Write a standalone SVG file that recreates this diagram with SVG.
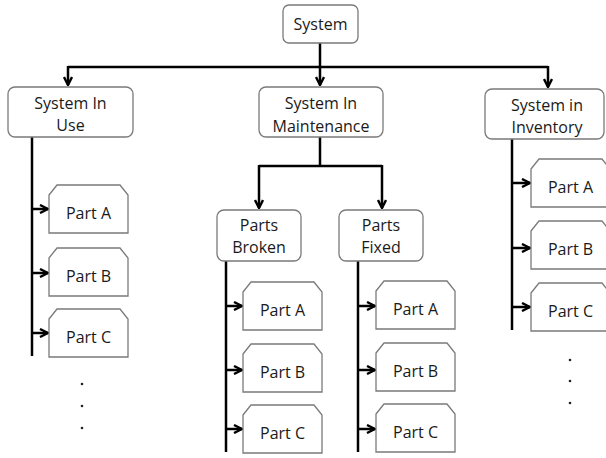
<svg xmlns="http://www.w3.org/2000/svg" width="606" height="458" viewBox="0 0 606 458">
<style>
.box{fill:#fff;stroke:#7a7a7a;stroke-width:1.3}
.t{font-family:"Open Sans","Liberation Sans",sans-serif;font-size:16px;fill:#1a1a1a;text-anchor:middle}
.c{fill:none;stroke:#000;stroke-width:2.5}
.dot{fill:#222}
</style>
<defs>
<marker id="ah" viewBox="0 0 10 10" refX="9" refY="5" markerWidth="4" markerHeight="4" orient="auto" markerUnits="strokeWidth">
<path d="M1,1 L9,5 L1,9" fill="none" stroke="#000" stroke-width="2.4"/>
</marker>
<path id="part" d="M0,10 L8,0 L71,0 L79,10 L79,48 L0,48 Z"/>
</defs>
<rect width="606" height="458" fill="#fff"/>
<g id="connectors">
<path class="c" d="M320,43 V85" marker-end="url(#ah)"/>
<path class="c" d="M68,67 H548"/>
<path class="c" d="M68,66 V85" marker-end="url(#ah)"/>
<path class="c" d="M548,66 V87" marker-end="url(#ah)"/>
<path class="c" d="M32,137 V356"/>
<path class="c" d="M31,209 H48" marker-end="url(#ah)"/>
<path class="c" d="M31,273 H48" marker-end="url(#ah)"/>
<path class="c" d="M31,333 H48" marker-end="url(#ah)"/>
<path class="c" d="M320,137 V166"/>
<path class="c" d="M259,166 H382"/>
<path class="c" d="M259,165 V208" marker-end="url(#ah)"/>
<path class="c" d="M382,165 V208" marker-end="url(#ah)"/>
<path class="c" d="M226,261 V452"/>
<path class="c" d="M225,306 H242" marker-end="url(#ah)"/>
<path class="c" d="M225,370 H242" marker-end="url(#ah)"/>
<path class="c" d="M225,429 H242" marker-end="url(#ah)"/>
<path class="c" d="M358,261 V452"/>
<path class="c" d="M357,306 H375" marker-end="url(#ah)"/>
<path class="c" d="M357,370 H375" marker-end="url(#ah)"/>
<path class="c" d="M357,429 H375" marker-end="url(#ah)"/>
<path class="c" d="M512,139 V330"/>
<path class="c" d="M511,183 H530" marker-end="url(#ah)"/>
<path class="c" d="M511,248 H530" marker-end="url(#ah)"/>
<path class="c" d="M511,307 H530" marker-end="url(#ah)"/>
</g>
<g id="system"><rect class="box" x="283" y="5" width="75" height="38" rx="6"/><text class="t" x="320.5" y="30">System</text></g>
<g id="inuse"><rect class="box" x="8" y="87" width="125" height="50" rx="7"/><text class="t" x="70.5" y="109">System In</text><text class="t" x="70.5" y="131">Use</text></g>
<g id="maint"><rect class="box" x="259" y="87" width="124" height="50" rx="7"/><text class="t" x="321" y="109">System In</text><text class="t" x="321" y="131.5">Maintenance</text></g>
<g id="inventory"><rect class="box" x="485" y="89" width="119" height="50" rx="7"/><text class="t" x="547" y="111">System in</text><text class="t" x="547" y="133">Inventory</text></g>
<g id="broken"><rect class="box" x="217" y="210" width="84" height="51" rx="7"/><text class="t" x="259" y="231">Parts</text><text class="t" x="259" y="253">Broken</text></g>
<g id="fixed"><rect class="box" x="339" y="210" width="84" height="51" rx="7"/><text class="t" x="381" y="231">Parts</text><text class="t" x="381" y="253">Fixed</text></g>
<g id="use-a"><use href="#part" class="box" x="49" y="185"/><text class="t" x="88.5" y="218.5">Part A</text></g>
<g id="use-b"><use href="#part" class="box" x="49" y="248"/><text class="t" x="88.5" y="281.5">Part B</text></g>
<g id="use-c"><use href="#part" class="box" x="49" y="309"/><text class="t" x="88.5" y="342.5">Part C</text></g>
<g id="broken-a"><use href="#part" class="box" x="243" y="282"/><text class="t" x="282.5" y="315.5">Part A</text></g>
<g id="broken-b"><use href="#part" class="box" x="243" y="344"/><text class="t" x="282.5" y="377.5">Part B</text></g>
<g id="broken-c"><use href="#part" class="box" x="243" y="405"/><text class="t" x="282.5" y="438.5">Part C</text></g>
<g id="fixed-a"><use href="#part" class="box" x="376" y="281"/><text class="t" x="415.5" y="314.5">Part A</text></g>
<g id="fixed-b"><use href="#part" class="box" x="376" y="343"/><text class="t" x="415.5" y="376.5">Part B</text></g>
<g id="fixed-c"><use href="#part" class="box" x="376" y="404"/><text class="t" x="415.5" y="437.5">Part C</text></g>
<g id="inv-a"><use href="#part" class="box" x="531" y="159"/><text class="t" x="570.5" y="192.5">Part A</text></g>
<g id="inv-b"><use href="#part" class="box" x="531" y="221"/><text class="t" x="570.5" y="254.5">Part B</text></g>
<g id="inv-c"><use href="#part" class="box" x="531" y="283"/><text class="t" x="570.5" y="316.5">Part C</text></g>
<g id="dots">
<circle class="dot" cx="82" cy="384" r="1.3"/><circle class="dot" cx="82" cy="406" r="1.3"/><circle class="dot" cx="82" cy="428" r="1.3"/>
<circle class="dot" cx="570" cy="360" r="1.3"/><circle class="dot" cx="570" cy="381" r="1.3"/><circle class="dot" cx="570" cy="403" r="1.3"/>
</g>
</svg>
